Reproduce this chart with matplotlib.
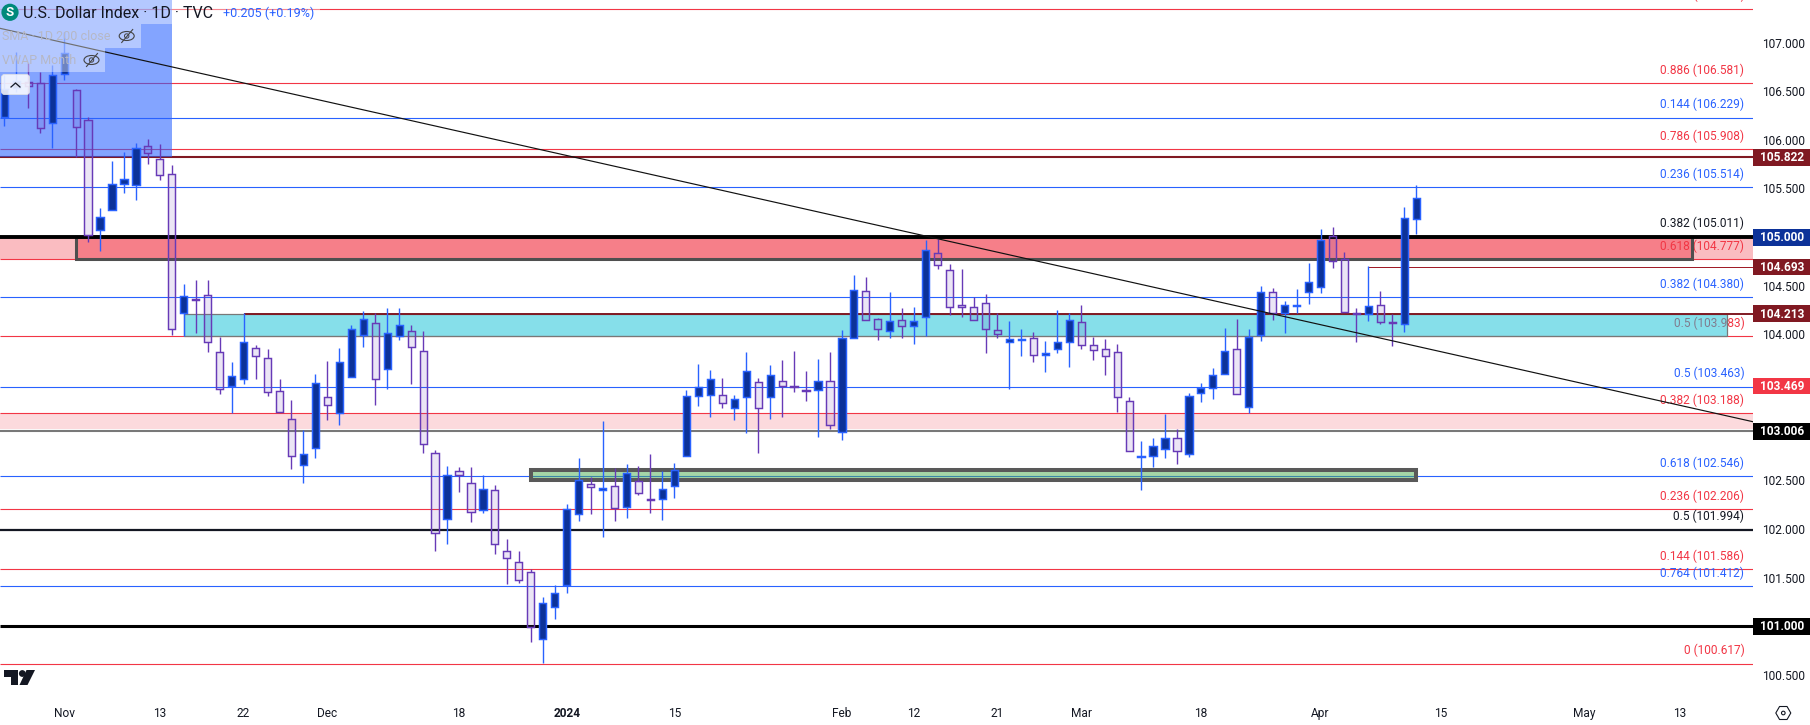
import matplotlib
matplotlib.use("Agg")
import matplotlib.pyplot as plt
from matplotlib.patches import Rectangle, Circle, Ellipse, FancyBboxPatch, Polygon, RegularPolygon

plt.rcParams['font.family'] = ['Roboto', 'DejaVu Sans']

# daily candles, US dollar index
OPENS = [106.238, 106.533, 106.591, 106.581, 106.170, 106.674, 106.509, 106.201, 105.070, 105.276,
         105.543, 105.533, 105.934, 105.800, 105.646, 104.218, 104.365, 104.402, 103.817, 103.467,
         103.545, 103.858, 103.755, 103.416, 103.128, 102.656, 102.830, 103.354, 103.196, 103.560,
         103.991, 104.115, 103.642, 103.981, 104.033, 103.827, 102.779, 102.101, 102.594, 102.471,
         102.193, 102.399, 101.772, 101.659, 101.556, 100.868, 101.196, 101.422, 102.152, 102.460,
         102.399, 102.440, 102.224, 102.491, 102.309, 102.306, 102.440, 102.748, 103.365, 103.375,
         103.375, 103.241, 103.354, 103.509, 103.354, 103.519, 103.474, 103.432, 103.426, 103.519,
         102.995, 103.961, 104.444, 104.156, 104.033, 104.146, 104.084, 104.176, 104.834, 104.659,
         104.300, 104.279, 104.320, 104.043, 103.919, 103.947, 103.961, 103.789, 103.848, 103.919,
         104.125, 103.889, 103.848, 103.817, 103.313, 102.743, 102.748, 102.820, 102.933, 102.769,
         103.395, 103.447, 103.591, 103.848, 103.252, 103.995, 104.433, 104.224, 104.295, 104.433,
         104.485, 105.009, 104.772, 104.223, 104.207, 104.300, 104.130, 104.105, 105.184]
HIGHS = [106.666, 106.903, 106.787, 106.700, 106.769, 107.111, 106.522, 106.232, 105.297, 105.783,
         105.875, 105.964, 106.009, 105.957, 105.741, 104.519, 104.560, 104.560, 103.977, 103.714,
         104.218, 103.892, 103.851, 103.542, 103.327, 103.018, 103.594, 103.727, 103.858, 104.097,
         104.241, 104.218, 104.272, 104.272, 104.094, 104.036, 102.813, 102.648, 102.638, 102.638,
         102.553, 102.453, 101.895, 101.775, 101.587, 101.302, 101.422, 102.258, 102.731, 102.535,
         103.111, 102.625, 102.669, 102.648, 102.772, 102.594, 102.679, 103.429, 103.697, 103.635,
         103.553, 103.375, 103.820, 103.553, 103.686, 103.738, 103.830, 103.625, 103.748, 103.820,
         104.046, 104.611, 104.587, 104.166, 104.433, 104.269, 104.279, 104.971, 104.981, 104.721,
         104.670, 104.382, 104.413, 104.218, 104.135, 104.053, 104.022, 103.930, 104.251, 104.218,
         104.303, 103.977, 103.953, 103.902, 103.357, 102.905, 102.936, 103.183, 103.029, 103.395,
         103.498, 103.655, 104.066, 104.159, 104.056, 104.498, 104.478, 104.344, 104.467, 104.734,
         105.084, 105.104, 104.844, 104.272, 104.701, 104.447, 104.213, 105.310, 105.536]
LOWS = [106.142, 106.492, 106.330, 106.073, 105.913, 106.615, 105.821, 104.953, 104.861, 105.276,
        105.457, 105.382, 105.755, 105.587, 103.995, 103.984, 104.018, 103.823, 103.391, 103.190,
        103.494, 103.545, 103.368, 103.200, 102.618, 102.477, 102.734, 103.121, 103.070, 103.560,
        103.871, 103.275, 103.443, 103.943, 103.494, 102.785, 101.778, 101.850, 102.384, 102.076,
        102.169, 101.747, 101.439, 101.449, 100.843, 100.624, 101.079, 101.346, 102.086, 102.158,
        101.922, 102.086, 102.117, 102.350, 102.169, 102.097, 102.323, 102.748, 103.268, 103.155,
        103.248, 103.124, 102.990, 102.785, 103.131, 103.155, 103.412, 103.319, 102.949, 103.032,
        102.916, 103.961, 104.146, 103.946, 103.967, 103.967, 103.905, 103.981, 104.670, 104.197,
        104.176, 104.146, 103.807, 103.961, 103.443, 103.782, 103.720, 103.617, 103.813, 103.669,
        103.851, 103.738, 103.583, 103.206, 102.799, 102.402, 102.641, 102.734, 102.672, 102.744,
        103.309, 103.340, 103.591, 103.385, 103.190, 103.936, 104.152, 104.018, 104.224, 104.316,
        104.429, 104.686, 104.228, 103.926, 104.141, 104.111, 103.885, 104.028, 105.036]
CLOSES = [106.526, 106.605, 106.556, 106.119, 106.663, 106.889, 106.129, 105.019, 105.210, 105.543,
          105.595, 105.913, 105.862, 105.636, 104.053, 104.395, 104.355, 103.919, 103.437, 103.570,
          103.919, 103.776, 103.406, 103.200, 102.748, 102.769, 103.498, 103.272, 103.714, 104.053,
          104.156, 103.539, 104.012, 104.094, 103.868, 102.871, 101.957, 102.553, 102.556, 102.173,
          102.409, 101.844, 101.700, 101.474, 100.997, 101.237, 101.340, 102.203, 102.501, 102.429,
          102.419, 102.214, 102.573, 102.368, 102.299, 102.409, 102.604, 103.365, 103.457, 103.539,
          103.293, 103.334, 103.621, 103.241, 103.580, 103.474, 103.464, 103.422, 103.519, 103.067,
          103.961, 104.454, 104.146, 104.053, 104.135, 104.084, 104.135, 104.865, 104.711, 104.279,
          104.279, 104.146, 104.053, 104.002, 103.950, 103.957, 103.786, 103.807, 103.919, 104.146,
          103.889, 103.837, 103.776, 103.354, 102.799, 102.753, 102.851, 102.933, 102.799, 103.365,
          103.447, 103.580, 103.827, 103.385, 103.971, 104.433, 104.224, 104.300, 104.305, 104.536,
          104.971, 104.752, 104.228, 104.213, 104.289, 104.125, 104.120, 105.194, 105.399]

# fib levels: ratio, price, colour
FIB_RATIOS = ['0', '0.886', '0.144', '0.786', '0.236', '0.382', '0.618', '0.382', '0.5', '0.5',
              '0.382', '0.618', '0.236', '0.5', '0.144', '0.764', '0']
FIB_PRICES = [107.348, 106.581, 106.229, 105.908, 105.514, 105.011, 104.777, 104.380, 103.983, 103.463,
              103.188, 102.546, 102.206, 101.994, 101.586, 101.412, 100.617]
FIB_COLORS = ['#f23645', '#f23645', '#2962ff', '#f23645', '#2962ff', '#131722', '#f23645', '#2962ff', '#f23645', '#2962ff',
              '#f23645', '#2962ff', '#f23645', '#131722', '#f23645', '#2962ff', '#f23645']

PRICE_TICKS = [107.0, 106.5, 106.0, 105.5, 104.5, 104.0, 102.5, 102.0, 101.5, 100.5]
TIME_POS = [5, 13, 20, 27, 38, 47, 56, 70, 76, 83, 90, 100, 110, 120, 132, 140]
TIME_LABELS = ['Nov', '13', '22', 'Dec', '18', '2024', '15', 'Feb', '12', '21', 'Mar', '18', 'Apr', '15', 'May', '13']

TAG_PRICES = [105.822, 105.000, 104.693, 104.213, 103.469, 103.006, 101.000]
TAG_COLORS = ['#801922', '#0c3299', '#801922', '#801922', '#f23645', '#000000', '#000000']

TREND_X = [-0.36, 146.1]
TREND_Y = [107.146, 103.104]

W, H = 1810, 725
PLOT_W, PLOT_H = 1753, 690
BAR0, BAR_STEP = 4.3, 11.966   # px of first candle, px per candle

fig = plt.figure(figsize=(W / 100, H / 100), dpi=100, facecolor='white')
ax = fig.add_axes([0, 1 - PLOT_H / H, PLOT_W / W, PLOT_H / H])
ax.set_xlim((0 - BAR0) / BAR_STEP, (PLOT_W - BAR0) / BAR_STEP)
ax.set_ylim(100.346, 107.437)
for s in ax.spines.values():
    s.set_visible(False)

ax.yaxis.tick_right()
ax.set_yticks(PRICE_TICKS, ['%.3f' % p for p in PRICE_TICKS])
ax.set_xticks(TIME_POS, TIME_LABELS)
ax.tick_params(axis='y', length=0, pad=6.5, labelsize=8.6, labelcolor='#131722')
ax.tick_params(axis='x', length=0, pad=12, labelsize=8.6, labelcolor='#131722')
for lab in ax.get_xticklabels():
    if lab.get_text() == '2024':
        lab.set_fontweight('bold')

xmin, xmax = ax.get_xlim()

# fib lines and their labels
for ratio, price, col in zip(FIB_RATIOS, FIB_PRICES, FIB_COLORS):
    lw = 1.6 if price == 101.994 else 0.8
    ax.hlines(price, xmin, xmax, color=col, lw=lw, zorder=1)
    ax.annotate('%s (%.3f)' % (ratio, price), (1744.3 / PLOT_W, price), xycoords=ax.get_yaxis_transform(),
                xytext=(0, 4.5), textcoords='offset points', ha='right', va='bottom',
                fontsize=8.6, color=col, zorder=1.5, annotation_clip=False, clip_on=True)

# horizontal levels
ax.hlines(105.000, xmin, xmax, color='black', lw=2.8, zorder=3.2)
ax.hlines(101.000, xmin, xmax, color='black', lw=2.2, zorder=1)
ax.hlines(105.822, xmin, xmax, color='#801922', lw=1.5, zorder=1)
ax.hlines(103.006, xmin, xmax, color='#787878', lw=1.5, zorder=1)
ax.hlines(104.213, 20, xmax, color='#801922', lw=1.4, zorder=3.5)
ax.hlines(104.693, 114, xmax, color='#a01c28', lw=0.72, zorder=1)

# zones
ax.add_patch(Rectangle((xmin, 104.777), xmax - xmin, 0.234, fc='#f23645', alpha=0.33, ec='none', zorder=2))
ax.add_patch(Rectangle((xmin, 103.03), xmax - xmin, 0.158, fc='#f23645', alpha=0.18, ec='none', zorder=2))
ax.add_patch(Rectangle((6, 104.777), 135, 0.223, fc=(0.949, 0.212, 0.271, 0.45), ec='#4f4f4f', lw=2.2, zorder=3))
ax.add_patch(Rectangle((15, 103.983), 129, 0.230, fc=(0.06, 0.757, 0.843, 0.5), ec='#787878', lw=0.9, zorder=3))
ax.add_patch(Rectangle((44, 102.508), 74, 0.096, fc=(0.298, 0.686, 0.314, 0.5), ec='#595959', lw=2.9, zorder=3))
ax.add_patch(Rectangle((xmin, 105.822), 14 - xmin, 107.437 - 105.822, fc='#2962ff', alpha=0.58, ec='none', zorder=2.5))

# candles
for i in range(len(OPENS)):
    o, h, l, c = OPENS[i], HIGHS[i], LOWS[i], CLOSES[i]
    top, bot = max(o, c), min(o, c)
    if c >= o:
        edge, face = '#2962ff', '#0c3299'
    else:
        edge, face = '#673ab7', (0.404, 0.227, 0.718, 0.13)
    ax.vlines(i, top, h, color=edge, lw=1.0, zorder=5)
    ax.vlines(i, l, bot, color=edge, lw=1.0, zorder=5)
    ax.bar(i, top - bot, bottom=bot, width=0.6, facecolor=face, edgecolor=edge, linewidth=1.05, zorder=5)

ax.plot(TREND_X, TREND_Y, color='#111111', lw=0.85, zorder=6)

# price tags on the axis
for price, col in zip(TAG_PRICES, TAG_COLORS):
    ax.add_patch(Rectangle((1, price - 0.086), 57 / PLOT_W, 0.172, transform=ax.get_yaxis_transform(),
                           fc=col, ec='none', clip_on=False, zorder=8))
    ax.text(1 + 29.5 / PLOT_W, price - 0.004, '%.3f' % price, transform=ax.get_yaxis_transform(), color='white',
            fontsize=8.6, fontweight='bold', ha='center', va='center', clip_on=False, zorder=9)

# pane decorations, in pixels
ov = fig.add_axes([0, 0, 1, 1], facecolor='none')
ov.set_xlim(0, W)
ov.set_ylim(H, 0)
ov.axis('off')

ov.add_patch(Rectangle((0, 0), 320, 24, fc='white', alpha=0.4, ec='none'))
ov.add_patch(Rectangle((0, 24), 141, 24, fc='white', alpha=0.4, ec='none'))
ov.add_patch(Rectangle((0, 48), 105, 24, fc='white', alpha=0.4, ec='none'))
ov.add_patch(Circle((10, 12.3), 8.6, fc='#00897b', ec='none'))
ov.text(10, 12.8, 'S', color='white', fontsize=9.5, fontweight='bold', ha='center', va='center')
ov.text(23, 13, 'U.S. Dollar Index · 1D · TVC', color='#131722', fontsize=11.5, va='center')
ov.text(222.5, 13, '+0.205 (+0.19%)', color='#2962ff', fontsize=9.0, va='center')
ov.text(1.5, 36.5, 'SMA · 1D 200 close', color='#b6b8c6', fontsize=9.0, va='center')
ov.text(1.5, 60.5, 'VWAP Month', color='#b6b8c6', fontsize=9.0, va='center')
for ex, ey in [(126.7, 36), (91.5, 60)]:
    ov.add_patch(Ellipse((ex, ey), 15, 9, fc='none', ec='#444444', lw=0.8))
    ov.add_patch(Circle((ex, ey), 2.2, fc='none', ec='#444444', lw=0.7))
    ov.plot([ex - 5, ex + 6], [ey + 6.5, ey - 6.5], color='#444444', lw=0.8)

ov.add_patch(FancyBboxPatch((3, 76), 25, 17, boxstyle='round,pad=1.5,rounding_size=3',
                            fc='white', alpha=0.85, ec='#dde0e8', lw=0.7))
ov.plot([11, 15.5, 20], [87, 83, 87], color='#131722', lw=0.9)

# logo
ov.add_patch(Polygon([(4, 670), (18, 670), (18, 685), (10.5, 685), (10.5, 677), (4, 677)], fc='#131722', ec='none'))
ov.add_patch(Circle((22.3, 673.5), 3.4, fc='#131722', ec='none'))
ov.add_patch(Polygon([(26.5, 670), (35, 670), (27.5, 685), (19.5, 685)], fc='#131722', ec='none'))

# settings icon
ov.add_patch(RegularPolygon((1783.3, 713), 6, radius=7.5, orientation=0.5236, fc='none', ec='#131722', lw=0.8))
ov.add_patch(Circle((1783.3, 713), 1.8, fc='none', ec='#131722', lw=0.8))

fig.savefig('out.png', dpi=100)
